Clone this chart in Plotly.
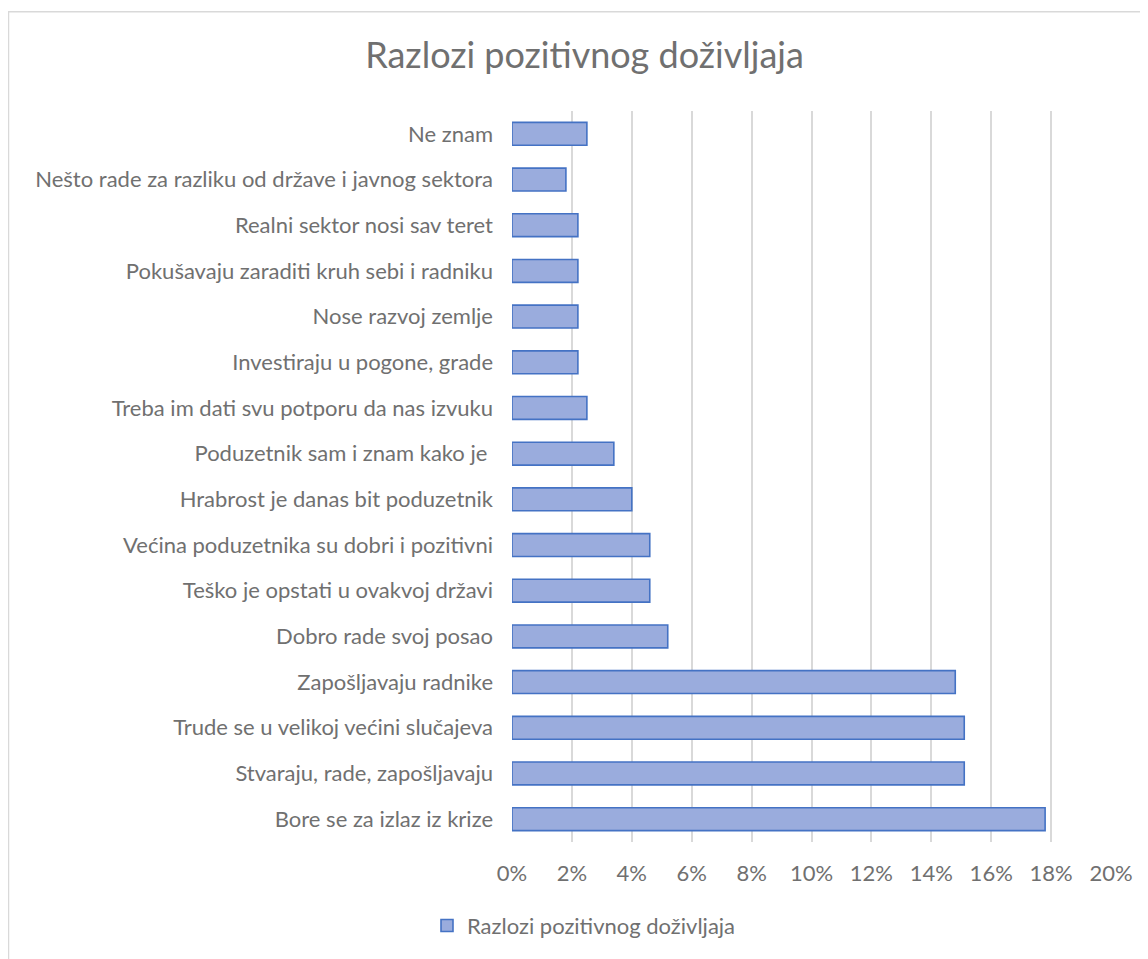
import plotly.graph_objects as go

categories = [
    "Bore se za izlaz iz krize",
    "Stvaraju, rade, zapošljavaju",
    "Trude se u velikoj većini slučajeva",
    "Zapošljavaju radnike",
    "Dobro rade svoj posao",
    "Teško je opstati u ovakvoj državi",
    "Većina poduzetnika su dobri i pozitivni",
    "Hrabrost je danas bit poduzetnik",
    "Poduzetnik sam i znam kako je ",
    "Treba im dati svu potporu da nas izvuku",
    "Investiraju u pogone, grade",
    "Nose razvoj zemlje",
    "Pokušavaju zaraditi kruh sebi i radniku",
    "Realni sektor nosi sav teret",
    "Nešto rade za razliku od države i javnog sektora",
    "Ne znam",
]
values = [0.178, 0.151, 0.151, 0.148, 0.052, 0.046, 0.046, 0.040, 0.034,
          0.025, 0.022, 0.022, 0.022, 0.022, 0.018, 0.025]
series_name = "Razlozi pozitivnog doživljaja"
tick_vals = [0, 0.02, 0.04, 0.06, 0.08, 0.10, 0.12, 0.14, 0.16, 0.18, 0.20]
tick_text = ["0%", "2%", "4%", "6%", "8%", "10%", "12%", "14%", "16%", "18%", "20%"]

FONT = "Lato"
GRAY = "#707070"

# page body has an 8px margin, so figure coords = screen coords - 8
W, H = 1140, 951
L, R, T, B = 504, 37, 103, 115
pw, ph = W - L - R, H - T - B

def px(x):
    return (x - L) / pw

def py(y):
    return (H - B - y) / ph

fig = go.Figure(go.Bar(
    y=categories, x=values, orientation="h", name=series_name,
    marker=dict(color="#9aacdd", line=dict(color="#4472c4", width=1.6)),
    showlegend=True,
))

fig.update_layout(
    width=W, height=H,
    margin=dict(l=L, r=R, t=T, b=B),
    paper_bgcolor="white", plot_bgcolor="white",
    font=dict(family=FONT, color=GRAY, size=22),
    bargap=0.5,
    title=dict(text=series_name, x=576.5 / W, xref="container", xanchor="center",
               y=1 - 47 / H, yanchor="middle", yref="container",
               font=dict(size=36, color=GRAY, family=FONT)),
    xaxis=dict(range=[0, 0.2], tickvals=tick_vals, ticktext=tick_text,
               showgrid=True, gridcolor="#d9d9d9", gridwidth=1.5,
               zeroline=False, showline=False, ticks="", ticklabelstandoff=16,
               tickfont=dict(size=22, color=GRAY)),
    yaxis=dict(showgrid=False, zeroline=False, showline=False, ticks="",
               ticklabelstandoff=18, tickfont=dict(size=22, color=GRAY)),
    legend=dict(orientation="h", x=px(576), xanchor="center", y=py(920),
                yanchor="middle", font=dict(size=22, color=GRAY)),
    shapes=[dict(type="rect", xref="paper", yref="paper",
                 x0=px(0.5), x1=px(1160), y0=py(970), y1=py(3.5),
                 line=dict(color="#d9d9d9", width=1.5), fillcolor="rgba(0,0,0,0)",
                 layer="below")],
)

fig.write_html("out.html")
